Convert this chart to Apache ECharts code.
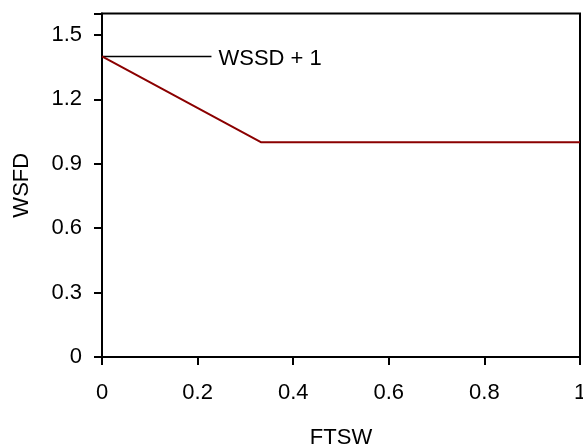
<!DOCTYPE html>
<html><head><meta charset="utf-8">
<script src="https://cdn.jsdelivr.net/npm/echarts@6/dist/echarts.min.js"></script>
<style>html,body{margin:0;padding:0;background:#fff}#c{width:583px;height:448px}</style>
</head><body><div id="c"></div>
<script>
const ftsw = [0, 0.3333, 1];
const wsfd = [1.4, 1.0, 1.0];
const annX = [0, 0.229];
const annY = [1.4, 1.4];
const annText = 'WSSD + 1';
const xTicks = [0, 0.2, 0.4, 0.6, 0.8, 1];
const yTicks = [0, 0.3, 0.6, 0.9, 1.2, 1.5];

const font = '"Liberation Sans", Arial, sans-serif';
const fs = 22;
const chart = echarts.init(document.getElementById('c'));
chart.setOption({
  animation: false,
  grid: {left: 102, right: 3, top: 13.5, bottom: 91, outerBoundsMode: 'none', containLabel: false,
         show: true, borderColor: '#000', borderWidth: 2, backgroundColor: 'transparent'},
  xAxis: {
    type: 'value', min: 0, max: 1, interval: 0.2,
    name: 'FTSW', nameLocation: 'middle', nameGap: 70,
    nameTextStyle: {fontFamily: font, fontSize: fs, color: '#000'},
    axisLine: {show: true, lineStyle: {color: '#000', width: 2}},
    axisTick: {show: true, length: 8, lineStyle: {color: '#000', width: 2}},
    axisLabel: {fontFamily: font, fontSize: fs, color: '#000', margin: 25,
      formatter: v => xTicks.includes(+v.toFixed(2)) ? String(+v.toFixed(2)) : ''},
    splitLine: {show: false}
  },
  yAxis: {
    type: 'value', min: 0, max: 1.6, interval: 0.3,
    name: 'WSFD', nameLocation: 'middle', nameGap: 69,
    nameTextStyle: {fontFamily: font, fontSize: fs, color: '#000'},
    axisLine: {show: true, lineStyle: {color: '#000', width: 2}},
    axisTick: {show: true, length: 8, lineStyle: {color: '#000', width: 2}},
    axisLabel: {fontFamily: font, fontSize: fs, color: '#000', margin: 20,
      formatter: v => { const r = +v.toFixed(2); return (yTicks.includes(r)) ? String(r) : ''; }},
    splitLine: {show: false}
  },
  series: [
    {type: 'line', data: annX.map((x, i) => [x, annY[i]]), symbol: 'none',
     lineStyle: {color: '#000', width: 1.5},
     endLabel: {show: true, formatter: annText, fontFamily: font, fontSize: fs, color: '#000', distance: 7, offset: [0, 2]}},
    {type: 'line', data: ftsw.map((x, i) => [x, wsfd[i]]), symbol: 'none',
     lineStyle: {color: '#8b0000', width: 2}}
  ]
});
</script></body></html>
